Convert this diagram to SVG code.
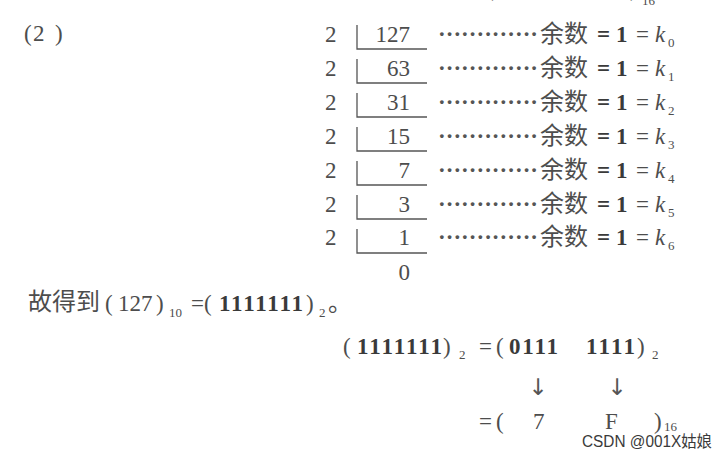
<svg xmlns="http://www.w3.org/2000/svg" width="727" height="457" viewBox="0 0 727 457">
<style>
text{font-family:"Liberation Serif","Noto Sans CJK SC",serif;fill:#4d4d4d;font-size:23px}
.cj{font-family:"Noto Sans CJK SC","Liberation Serif",sans-serif;font-size:24px}
.b{font-weight:bold;fill:#3a3a3a}
.i{font-style:italic}
.s{font-size:13px}
.num{text-anchor:end}
.dot{font-weight:bold;fill:#555}
.br{fill:none;stroke:#555;stroke-width:1.3}
.arr{text-anchor:middle;font-size:23px;font-family:"DejaVu Sans","Liberation Serif",sans-serif;fill:#555}
.wm{font-family:"Liberation Sans","Noto Sans CJK SC",sans-serif;font-size:16px;fill:#3a3a3a}
</style>
<rect width="727" height="457" fill="#fff"/>
<g id="top-cut">
<text x="486" y="-4">(</text><text x="630" y="-4">)</text><text class="s" x="642" y="5">16</text>
</g>
<g id="label"><text x="24" y="41" font-size="22">(</text><text x="33" y="41" font-size="22">2</text><text x="55" y="41" font-size="22">)</text></g>
<g id="brackets">
<path class="br" d="M357,25V49H427"/>
<path class="br" d="M357,59V83H427"/>
<path class="br" d="M357,93V117H427"/>
<path class="br" d="M357,127V151H427"/>
<path class="br" d="M357,161V185H427"/>
<path class="br" d="M357,195V219H427"/>
<path class="br" d="M357,229V253H427"/>
</g>
<g id="row0"><text x="325" y="42">2</text><text class="num" x="410" y="42">127</text><text class="dot" x="438" y="42" textLength="100" lengthAdjust="spacing">·············</text><text class="cj" x="540" y="42">余数</text><text class="b" x="597" y="42">=</text><text class="b" x="616" y="42">1</text><text x="636" y="42">=</text><text class="i" x="655" y="42">k</text><text class="s" x="668" y="47">0</text></g>
<g id="row1"><text x="325" y="76">2</text><text class="num" x="410" y="76">63</text><text class="dot" x="438" y="76" textLength="100" lengthAdjust="spacing">·············</text><text class="cj" x="540" y="76">余数</text><text class="b" x="597" y="76">=</text><text class="b" x="616" y="76">1</text><text x="636" y="76">=</text><text class="i" x="655" y="76">k</text><text class="s" x="668" y="81">1</text></g>
<g id="row2"><text x="325" y="110">2</text><text class="num" x="410" y="110">31</text><text class="dot" x="438" y="110" textLength="100" lengthAdjust="spacing">·············</text><text class="cj" x="540" y="110">余数</text><text class="b" x="597" y="110">=</text><text class="b" x="616" y="110">1</text><text x="636" y="110">=</text><text class="i" x="655" y="110">k</text><text class="s" x="668" y="115">2</text></g>
<g id="row3"><text x="325" y="144">2</text><text class="num" x="410" y="144">15</text><text class="dot" x="438" y="144" textLength="100" lengthAdjust="spacing">·············</text><text class="cj" x="540" y="144">余数</text><text class="b" x="597" y="144">=</text><text class="b" x="616" y="144">1</text><text x="636" y="144">=</text><text class="i" x="655" y="144">k</text><text class="s" x="668" y="149">3</text></g>
<g id="row4"><text x="325" y="178">2</text><text class="num" x="410" y="178">7</text><text class="dot" x="438" y="178" textLength="100" lengthAdjust="spacing">·············</text><text class="cj" x="540" y="178">余数</text><text class="b" x="597" y="178">=</text><text class="b" x="616" y="178">1</text><text x="636" y="178">=</text><text class="i" x="655" y="178">k</text><text class="s" x="668" y="183">4</text></g>
<g id="row5"><text x="325" y="212">2</text><text class="num" x="410" y="212">3</text><text class="dot" x="438" y="212" textLength="100" lengthAdjust="spacing">·············</text><text class="cj" x="540" y="212">余数</text><text class="b" x="597" y="212">=</text><text class="b" x="616" y="212">1</text><text x="636" y="212">=</text><text class="i" x="655" y="212">k</text><text class="s" x="668" y="217">5</text></g>
<g id="row6"><text x="325" y="245">2</text><text class="num" x="410" y="245">1</text><text class="dot" x="438" y="245" textLength="100" lengthAdjust="spacing">·············</text><text class="cj" x="540" y="245">余数</text><text class="b" x="597" y="245">=</text><text class="b" x="616" y="245">1</text><text x="636" y="245">=</text><text class="i" x="655" y="245">k</text><text class="s" x="668" y="250">6</text></g>
<g id="quotient"><text class="num" x="410" y="280">0</text></g>
<g id="result">
<text class="cj" x="28" y="310">故得到</text>
<text x="105" y="311" font-size="24">(</text><text x="118" y="311" font-size="24">127</text><text x="156" y="311" font-size="24">)</text><text class="s" x="169" y="317">10</text>
<text x="191" y="311" font-size="24">=</text><text x="204" y="311" font-size="24">(</text><text class="b" x="219" y="311" font-size="24" textLength="84" lengthAdjust="spacing">1111111</text><text x="306" y="311" font-size="24">)</text><text class="s" x="319" y="317">2</text><text class="cj" x="328" y="311" font-size="20">。</text>
</g>
<g id="grouping">
<text x="343" y="354" font-size="24">(</text><text class="b" x="357" y="354" font-size="24" textLength="85" lengthAdjust="spacing">1111111</text><text x="443" y="354" font-size="24">)</text><text class="s" x="459" y="359">2</text>
<text x="479" y="354" font-size="24">=</text><text x="496" y="354" font-size="24">(</text><text class="b" x="509" y="354" font-size="24" textLength="49" lengthAdjust="spacing">0111</text><text class="b" x="586" y="354" font-size="24" textLength="49" lengthAdjust="spacing">1111</text><text x="637" y="354" font-size="24">)</text><text class="s" x="652" y="359">2</text>
</g>
<g id="arrows"><text class="arr" x="538" y="395">↓</text><text class="arr" x="617" y="395">↓</text></g>
<g id="hex">
<text x="479" y="429" font-size="24">=</text><text x="496" y="429" font-size="24">(</text><text x="533" y="429" font-size="24">7</text><text x="605" y="429" font-size="24">F</text><text x="654" y="429" font-size="24">)</text><text class="s" x="664" y="431" font-size="11">16</text>
</g>
<text class="wm" x="582" y="447" textLength="130" lengthAdjust="spacingAndGlyphs">CSDN @001X姑娘</text>
</svg>
